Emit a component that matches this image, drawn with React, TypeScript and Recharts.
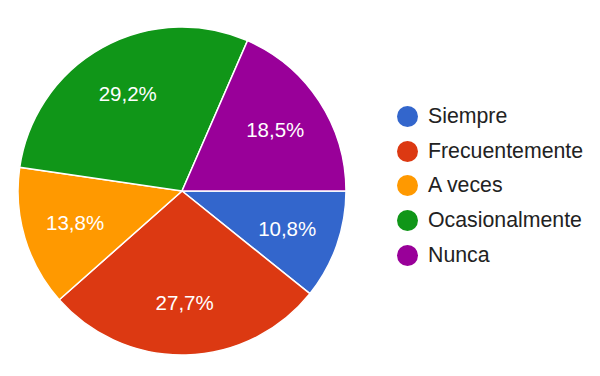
import React from "react";
import { PieChart, Pie, Cell, Legend } from "recharts";

const categories = ["Siempre", "Frecuentemente", "A veces", "Ocasionalmente", "Nunca"];
const counts = [7, 18, 9, 19, 12];
const colors = ["#3366cc", "#dc3912", "#ff9900", "#109618", "#990099"];

const data = categories.map((name, i) => ({ name, value: counts[i] }));

const FONT = "Arial, 'Liberation Sans', sans-serif";
const RADIAN = Math.PI / 180;

const renderLabel = (props: any) => {
  const { cx, cy, midAngle, outerRadius, percent } = props;
  const r = outerRadius * 0.68;
  const x = cx + r * Math.cos(-midAngle * RADIAN);
  const y = cy + r * Math.sin(-midAngle * RADIAN);
  const txt = (percent * 100).toFixed(1).replace(".", ",") + "%";
  return (
    <text
      x={x}
      y={y}
      fill="#ffffff"
      textAnchor="middle"
      dominantBaseline="central"
      fontFamily={FONT}
      fontSize={20.5}
    >
      {txt}
    </text>
  );
};

const renderLegend = () => (
  <div style={{ fontFamily: FONT, fontSize: 21.3, color: "#222222" }}>
    {categories.map((c, i) => (
      <div key={c} style={{ display: "flex", alignItems: "center", height: 34.7 }}>
        <svg width={21} height={21} style={{ marginRight: 10 }}>
          <circle cx={10.5} cy={10.5} r={10.5} fill={colors[i]} />
        </svg>
        <span>{c}</span>
      </div>
    ))}
  </div>
);

export default function App() {
  return (
    <div style={{ position: "absolute", left: 0, top: 0, width: 600, height: 376, background: "#ffffff" }}>
      <PieChart width={600} height={376} margin={{ top: 0, right: 0, bottom: 0, left: 0 }}>
        <Pie
          data={data}
          dataKey="value"
          nameKey="name"
          cx={182}
          cy={191}
          outerRadius={164}
          startAngle={0}
          endAngle={-360}
          stroke="#ffffff"
          strokeWidth={1.5}
          label={renderLabel}
          labelLine={false}
          isAnimationActive={false}
        >
          {data.map((d, i) => (
            <Cell key={d.name} fill={colors[i]} />
          ))}
        </Pie>
        <Legend
          content={renderLegend}
          wrapperStyle={{ position: "absolute", left: 397, top: 99, width: 200 }}
        />
      </PieChart>
    </div>
  );
}
